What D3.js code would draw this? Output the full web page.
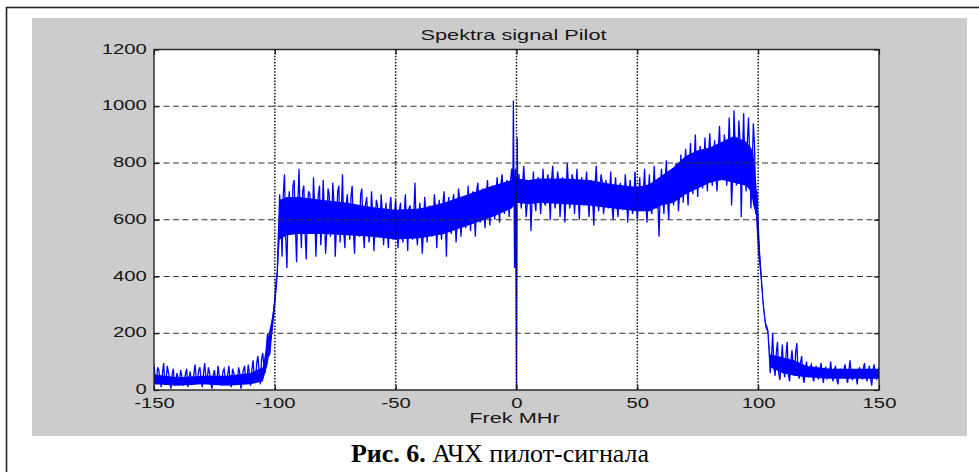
<!DOCTYPE html>
<html>
<head>
<meta charset="utf-8">
<script src="https://cdn.jsdelivr.net/npm/d3@7"></script>
<style>
  body { margin: 0; background: #fff; }
  svg { display: block; }
</style>
</head>
<body>
<svg id="pilot-spectrum" width="979" height="472"></svg>
<script>
const xTicks = [-150, -100, -50, 0, 50, 100, 150]
const yTicks = [0, 200, 400, 600, 800, 1000, 1200]

// magnitude, one reading per MHz, -150 .. 150
const freq = d3.range(-150, 151)
const amp = [
  90, 20, 70, 10, 95, 30, 60, 5, 75, 25,
  40, 70, 15, 55, 10, 65, 20, 90, 35, 80,
  10, 95, 30, 60, 5, 70, 25, 50, 15, 75,
  20, 85, 10, 60, 30, 80, 5, 70, 25, 90,
  15, 105, 30, 120, 20, 130, 60, 200, 130, 250,
  320, 420, 690, 470, 760, 430, 700, 560, 740, 450,
  780, 500, 720, 460, 700, 600, 750, 470, 690, 510,
  740, 480, 710, 540, 730, 470, 700, 520, 760, 500,
  690, 530, 720, 480, 640, 540, 710, 500, 680, 520,
  700, 490, 670, 600, 690, 510, 660, 500, 680, 530,
  670, 500, 660, 520, 690, 490, 650, 530, 730, 510,
  660, 480, 680, 520, 650, 540, 690, 500, 670, 530,
  700, 470, 680, 550, 690, 520, 710, 540, 680, 570,
  720, 560, 700, 540, 730, 590, 710, 570, 740, 580,
  720, 600, 750, 590, 760, 620, 740, 610, 780, 700,
  0, 760, 640, 790, 610, 740, 560, 770, 630, 750,
  620, 780, 650, 760, 600, 790, 640, 770, 610, 750,
  590, 800, 640, 760, 620, 780, 600, 750, 650, 770,
  610, 740, 580, 790, 630, 760, 620, 740, 640, 770,
  600, 750, 610, 730, 640, 760, 590, 740, 620, 770,
  600, 750, 630, 780, 590, 760, 620, 790, 640, 540,
  780, 620, 810, 600, 770, 650, 800, 630, 830, 660,
  850, 650, 870, 690, 900, 680, 860, 710, 890, 700,
  905, 720, 880, 700, 930, 740, 900, 720, 960, 650,
  985, 720, 950, 610, 975, 700, 960, 640, 940, 620,
  540, 430, 310, 235, 210, 60, 200, 50, 170, 35,
  160, 45, 170, 30, 140, 50, 165, 40, 120, 25,
  100, 45, 90, 30, 85, 40, 95, 25, 80, 45,
  100, 30, 85, 20, 75, 45, 90, 25, 105, 35,
  70, 20, 80, 40, 95, 30, 85, 15, 90, 40,
  80
]

// in-between readings at -149.5 .. 149.5
const halfFreq = d3.range(-149.5, 150, 1)
const halfAmp = [
  45, 80, 35, 60, 20, 85, 40, 55, 15, 60,
  25, 50, 30, 75, 45, 20, 55, 35, 70, 30,
  60, 40, 80, 25, 50, 35, 85, 30, 65, 40,
  55, 30, 75, 45, 20, 60, 40, 85, 35, 55,
  70, 45, 95, 60, 110, 80, 150, 120, 190, 280,
  380, 560, 620, 690, 540, 650, 600, 720, 580, 650,
  610, 700, 560, 650, 690, 560, 640, 600, 720, 580,
  630, 560, 690, 600, 650, 580, 720, 620, 560, 650,
  600, 680, 560, 640, 610, 690, 570, 650, 600, 560,
  620, 580, 650, 560, 620, 600, 560, 640, 590, 620,
  580, 630, 560, 610, 590, 640, 570, 620, 560, 610,
  600, 560, 630, 590, 610, 570, 640, 600, 580, 650,
  610, 640, 580, 660, 620, 600, 670, 610, 650, 630,
  640, 680, 620, 700, 650, 670, 630, 690, 660, 700,
  670, 700, 650, 720, 690, 710, 670, 730, 700, 760,
  700, 680, 720, 700, 660, 720, 690, 670, 730, 690,
  700, 660, 720, 690, 740, 680, 700, 730, 670, 710,
  690, 720, 670, 740, 700, 680, 720, 660, 710, 690,
  700, 670, 720, 680, 700, 730, 660, 700, 690, 650,
  690, 660, 710, 680, 650, 700, 670, 690, 650, 700,
  680, 650, 700, 660, 690, 640, 700, 680, 660, 720,
  690, 730, 670, 750, 700, 720, 760, 690, 740, 780,
  720, 790, 740, 800, 760, 820, 750, 800, 780, 840,
  790, 830, 760, 850, 800, 780, 860, 810, 840, 760,
  860, 800, 880, 830, 780, 870, 820, 760, 860, 700,
  480, 370, 270, 225, 140, 110, 80, 130, 60, 100,
  70, 120, 55, 100, 80, 130, 60, 95, 50, 75,
  60, 80, 50, 70, 45, 65, 55, 75, 40, 60,
  55, 70, 40, 60, 50, 75, 45, 65, 55, 70,
  50, 65, 45, 75, 55, 60, 40, 70, 50, 65
]

// pilot carrier, finer readings around 0 MHz
const pilotFreq = [-1.3, -0.8, -0.4, 0.3, 0.6]
const pilotAmp = [1020, 430, 780, 890, 720]

// dense middle of the noise band (where the trace is solid blue)
const bandFreq = [-150, -140, -130, -120, -110, -105, -103, -101, -100, -99, -98, -95, -90, -80, -70, -60, -50, -40, -30, -20, -10, -2, 0, 5, 10, 20, 30, 40, 50, 55, 60, 65, 70, 75, 80, 85, 90, 95, 97, 98, 99, 100, 101, 102, 103, 104, 105, 110, 115, 120, 130, 140, 150]
const bandLow = [20, 15, 20, 15, 20, 30, 90, 200, 280, 380, 530, 545, 550, 550, 545, 540, 530, 535, 550, 580, 610, 640, 660, 655, 660, 655, 650, 640, 630, 630, 650, 660, 690, 710, 730, 740, 730, 720, 700, 650, 620, 480, 400, 300, 220, 200, 80, 60, 50, 45, 40, 40, 40]
const bandHigh = [55, 45, 50, 50, 60, 80, 180, 260, 330, 430, 670, 680, 680, 670, 660, 645, 635, 640, 660, 690, 720, 740, 745, 740, 745, 745, 740, 725, 715, 725, 755, 785, 825, 845, 855, 875, 895, 875, 855, 835, 755, 635, 455, 325, 238, 212, 125, 115, 105, 85, 75, 75, 75]

const svg = d3.select('#pilot-spectrum')
const plotLeft = 154
const plotRight = 879
const plotTop = 49.5
const plotBottom = 390
const stretch = 1.45 // the figure text is widened horizontally

const x = d3.scaleLinear().domain([-150, 150]).range([plotLeft, plotRight])
const y = d3.scaleLinear().domain([0, 1200]).range([plotBottom, plotTop])

// outer frame and grey figure panel
svg.append('rect')
  .attr('x', 6.5).attr('y', 7.5)
  .attr('width', 1000).attr('height', 500)
  .attr('fill', '#fff')
  .attr('stroke', '#222')
  .attr('stroke-width', 1.6)
svg.append('rect')
  .attr('x', 32).attr('y', 18)
  .attr('width', 935).attr('height', 418)
  .attr('fill', '#cccccc')
svg.append('rect')
  .attr('x', plotLeft).attr('y', plotTop)
  .attr('width', plotRight - plotLeft).attr('height', plotBottom - plotTop)
  .attr('fill', '#fff')

svg.append('clipPath').attr('id', 'plot-clip')
  .append('rect')
  .attr('x', plotLeft).attr('y', plotTop)
  .attr('width', plotRight - plotLeft).attr('height', plotBottom - plotTop)

const plot = svg.append('g').attr('clip-path', 'url(#plot-clip)')

const band = d3.area()
  .x((d, i) => x(bandFreq[i]))
  .y0((d, i) => y(bandLow[i]))
  .y1((d, i) => y(bandHigh[i]))

plot.append('path')
  .attr('d', band(bandFreq))
  .attr('fill', '#0000ff')

const points = freq.map((f, i) => [f, amp[i]])
  .concat(halfFreq.map((f, i) => [f, halfAmp[i]]))
  .concat(pilotFreq.map((f, i) => [f, pilotAmp[i]]))
  .sort((a, b) => a[0] - b[0])

const line = d3.line()
  .x(d => x(d[0]))
  .y(d => y(d[1]))

plot.append('path')
  .attr('d', line(points))
  .attr('fill', 'none')
  .attr('stroke', '#0000ff')
  .attr('stroke-width', 1.3)
  .attr('stroke-linejoin', 'miter')

// grid on top of the trace, like the original
svg.append('g')
  .selectAll('line')
  .data(yTicks.slice(1))
  .join('line')
  .attr('x1', plotLeft).attr('x2', plotRight)
  .attr('y1', d => y(d)).attr('y2', d => y(d))
  .attr('stroke', '#333')
  .attr('stroke-width', 1.2)
  .attr('stroke-dasharray', '6,3.5')

svg.append('g')
  .selectAll('line')
  .data(xTicks.slice(1, -1))
  .join('line')
  .attr('x1', d => x(d)).attr('x2', d => x(d))
  .attr('y1', plotTop).attr('y2', plotBottom)
  .attr('stroke', '#111')
  .attr('stroke-width', 1.5)
  .attr('stroke-dasharray', '1.5,1.6')

// axes: inward ticks, MATLAB style
const plain = d => String(d)
const xAxis = d3.axisBottom(x).tickValues(xTicks).tickFormat(plain).tickSize(-5).tickPadding(8)
const yAxis = d3.axisLeft(y).tickValues(yTicks).tickFormat(plain).tickSize(-5).tickPadding(5)

const gx = svg.append('g')
  .attr('transform', `translate(0,${plotBottom})`)
  .call(xAxis)
const gy = svg.append('g')
  .attr('transform', `translate(${plotLeft},0)`)
  .call(yAxis)

svg.append('g')
  .attr('transform', `translate(0,${plotTop})`)
  .call(d3.axisTop(x).tickValues(xTicks).tickSize(-5).tickFormat(''))
svg.append('g')
  .attr('transform', `translate(${plotRight},0)`)
  .call(d3.axisRight(y).tickValues(yTicks).tickSize(-5).tickFormat(''))

svg.selectAll('.domain').remove()
svg.selectAll('.tick line').attr('stroke', '#111').attr('stroke-width', 1.2)

;[gx, gy].forEach(g => {
  g.attr('font-family', '"Liberation Sans", Arial, sans-serif')
    .attr('font-size', 14)
  g.selectAll('text')
    .attr('fill', '#151515')
    .attr('transform', `scale(${stretch},1)`)
})
gy.selectAll('text').attr('dy', '0.26em')

// plot box
svg.append('rect')
  .attr('x', plotLeft).attr('y', plotTop)
  .attr('width', plotRight - plotLeft).attr('height', plotBottom - plotTop)
  .attr('fill', 'none')
  .attr('stroke', '#222')
  .attr('stroke-width', 1.4)

svg.append('text')
  .attr('transform', `translate(${(plotLeft + plotRight) / 2 - 3},40) scale(${stretch},1)`)
  .attr('text-anchor', 'middle')
  .attr('font-family', '"Liberation Sans", Arial, sans-serif')
  .attr('font-size', 15)
  .attr('fill', '#151515')
  .text('Spektra signal Pilot')

svg.append('text')
  .attr('transform', `translate(${(plotLeft + plotRight) / 2 - 2},423) scale(${stretch},1)`)
  .attr('text-anchor', 'middle')
  .attr('font-family', '"Liberation Sans", Arial, sans-serif')
  .attr('font-size', 15)
  .attr('fill', '#151515')
  .text('Frek MHr')

const caption = svg.append('text')
  .attr('x', 500)
  .attr('y', 462)
  .attr('text-anchor', 'middle')
  .attr('font-family', '"Liberation Serif", "Times New Roman", serif')
  .attr('font-size', 26)
  .attr('fill', '#000')
caption.append('tspan').attr('font-weight', 'bold').text('Рис. 6.')
caption.append('tspan').text(' АЧХ пилот-сигнала')
</script>
</body>
</html>
